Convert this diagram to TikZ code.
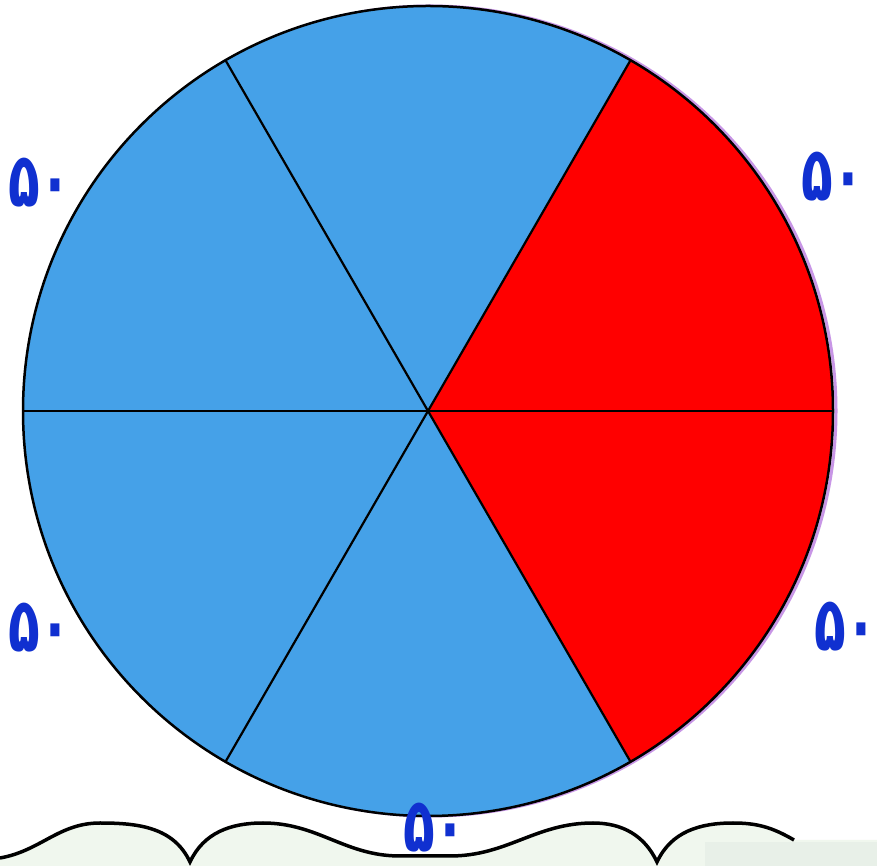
\documentclass[tikz,border=0pt]{standalone}
\usepackage{fontspec}
\newfontfamily\farsi[Script=Arabic]{DejaVu Sans}
\definecolor{skyblue}{RGB}{69,161,232}
\definecolor{pred}{RGB}{255,0,0}
\definecolor{labblue}{RGB}{16,48,208}
\definecolor{paleground}{RGB}{240,247,238}
\definecolor{greyground}{RGB}{232,240,232}
\definecolor{halo}{RGB}{200,150,230}
\newcommand{\fanum}{\scalebox{1}[1.45]{۵۰}}
\begin{document}
\begin{tikzpicture}[x=1pt,y=1pt,
  numlab/.style={text=labblue,font=\farsi\bfseries\fontsize{52}{52}\selectfont,inner sep=0pt},
  spoke/.style={draw=black,line width=2.2pt},
  rim/.style={draw=black,line width=2.5pt}]
\useasboundingbox (0,0) rectangle (877,866);
\fill[white] (0,0) rectangle (877,866);
\coordinate (c) at (428,455);
% halo on right side
\draw[halo,line width=3pt] (431,455) circle[radius=405];
% sectors
\foreach \a/\col in {60/skyblue,120/skyblue,180/skyblue,240/skyblue,300/pred,0/pred}{
  \fill[\col] (c) -- ++(\a:405) arc[start angle=\a,delta angle=60,radius=405] -- cycle;
}
\foreach \a in {0,60,120,180,240,300}{
  \draw[spoke] (c) -- ++(\a:405) coordinate (s\a);
}
\draw[rim] (c) circle[radius=405];
% ground wave
\fill[paleground] (0,0) -- (0,8) to[out=10,in=180] (100,43) to[out=0,in=115] (190,4)
  to[out=65,in=180] (263,43) to[out=0,in=180] (400,10) -- (450,10) to[out=0,in=180] (593,43)
  to[out=0,in=115] (657,4) to[out=65,in=180] (733,43) to[out=0,in=150] (794,26) -- (877,26) -- (877,0) -- cycle;
\fill[greyground] (705,0) rectangle (877,24);
\draw[black,line width=3.5pt] (0,8) to[out=10,in=180] (100,43) to[out=0,in=115] (190,4)
  to[out=65,in=180] (263,43) to[out=0,in=180] (400,10) -- (450,10) to[out=0,in=180] (593,43)
  to[out=0,in=115] (657,4) to[out=65,in=180] (733,43) to[out=0,in=150] (794,26);
% labels
\node[numlab] (l1) at (40,683) {\fanum};
\node[numlab] (l2) at (833,689) {\fanum};
\node[numlab] (l3) at (40,238) {\fanum};
\node[numlab] (l4) at (846,239) {\fanum};
\node[numlab] (l5) at (435,38) {\fanum};
\end{tikzpicture}
\end{document}
